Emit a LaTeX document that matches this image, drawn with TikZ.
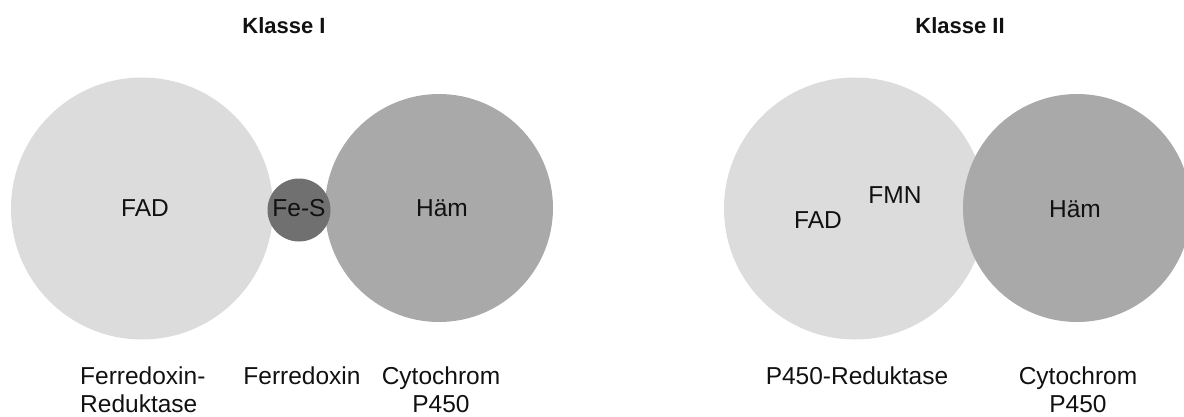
\documentclass[tikz,border=0pt]{standalone}
\usepackage{fontspec}
\setmainfont{Liberation Sans}
\definecolor{flavo}{HTML}{DCDCDC}
\definecolor{haem}{HTML}{A9A9A9}
\definecolor{ironsulfur}{HTML}{707070}
\definecolor{ink}{HTML}{111111}
\begin{document}
\begin{tikzpicture}[x=1pt,y=-1pt,
  disc/.style={circle,inner sep=0pt,draw=none,minimum size=#1},
  cofactor/.style={text=ink,inner sep=0pt,font=\fontsize{24.5}{27.5}\selectfont},
  protein/.style={text=ink,inner sep=0pt,anchor=north,font=\fontsize{24.5}{27.5}\selectfont},
  heading/.style={text=ink,inner sep=0pt,font=\fontsize{22}{26}\selectfont\bfseries}]
\clip (0,0) rectangle (1184,416);

% Class I: reductase, ferredoxin, P450
\node[disc=262pt,fill=flavo] (fadI) at (142,208.5) {};
\node[disc=228pt,fill=haem] (hamI) at (439,208) {};
\node[disc=63pt,fill=ironsulfur] (fes) at (299,210) {};

% Class II: P450 reductase and P450
\node[disc=262pt,fill=flavo] (fadII) at (855,208.5) {};
\node[disc=228pt,fill=haem] (hamII) at (1077,208) {};

% Headings
\node[heading] (headI) at (284,26) {Klasse I};
\node[heading] (headII) at (960,26) {Klasse II};

% Cofactors
\node[cofactor] (tfadI) at (145,208) {FAD};
\node[cofactor] (tfes) at (299,208) {Fe-S};
\node[cofactor] (thamI) at (442,208) {Häm};
\node[cofactor] (tfadII) at (818,220) {FAD};
\node[cofactor] (tfmn) at (895,195) {FMN};
\node[cofactor] (thamII) at (1075,209) {Häm};

% Protein names
\node[protein,anchor=north west,align=left] (pred) at (80,367) {Ferredoxin-\\Reduktase};
\node[protein] (pfdx) at (302,367) {Ferredoxin};
\node[protein,align=center] (pcypI) at (441,367) {Cytochrom\\P450};
\node[protein] (pcpr) at (857,367) {P450-Reduktase};
\node[protein,align=center] (pcypII) at (1078,367) {Cytochrom\\P450};
\end{tikzpicture}
\end{document}
